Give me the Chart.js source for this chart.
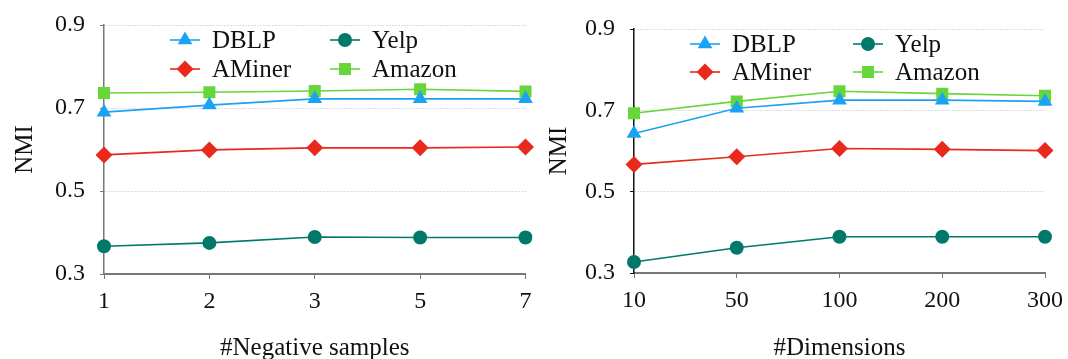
<!DOCTYPE html>
<html>
<head>
<meta charset="utf-8">
<script src="https://cdn.jsdelivr.net/npm/chart.js@4/dist/chart.umd.min.js"></script>
<style>
    body { margin: 0; background: #fff; }
    .wrap { position: absolute; top: 0; width: 534px; height: 359px; }
</style>
</head>
<body>
<div class="wrap" style="left:0"><canvas id="neg-samples"></canvas></div>
<div class="wrap" style="left:534px"><canvas id="dimensions"></canvas></div>
<script>
// data
const negLabels = ["1", "2", "3", "5", "7"];
const negDblp = [0.690, 0.707, 0.722, 0.722, 0.722];
const negAminer = [0.587, 0.599, 0.604, 0.604, 0.606];
const negYelp = [0.367, 0.375, 0.389, 0.388, 0.388];
const negAmazon = [0.736, 0.738, 0.741, 0.745, 0.740];

const dimLabels = ["10", "50", "100", "200", "300"];
const dimDblp = [0.643, 0.705, 0.725, 0.725, 0.722];
const dimAminer = [0.567, 0.586, 0.606, 0.604, 0.601];
const dimYelp = [0.327, 0.362, 0.389, 0.389, 0.389];
const dimAmazon = [0.693, 0.722, 0.747, 0.741, 0.736];

const yTicks = [0.3, 0.5, 0.7, 0.9];

const FONT = "'Liberation Serif', 'Times New Roman', serif";

const styles = {
    DBLP: { color: "#1aa3f2", point: "triangle", radius: 8.5 },
    AMiner: { color: "#e8291c", point: "rectRot", radius: 8.5 },
    Yelp: { color: "#00796b", point: "circle", radius: 7 },
    Amazon: { color: "#66d63a", point: "rect", radius: 8.5 },
};

function makeSet(name, values) {
    const s = styles[name];
    return {
        label: name,
        data: values,
        borderColor: s.color,
        backgroundColor: s.color,
        borderWidth: 1.6,
        pointStyle: s.point,
        pointRadius: s.radius,
        pointBorderWidth: 0,
        tension: 0,
    };
}

// legend drawn inside the plot, two columns
const insideLegend = {
    id: "insideLegend",
    afterDraw(chart, args, opts) {
        const ctx = chart.ctx;
        const items = [
            ["DBLP", 0, 0], ["Yelp", 1, 0],
            ["AMiner", 0, 1], ["Amazon", 1, 1],
        ];
        ctx.save();
        ctx.font = "25px " + FONT;
        ctx.textBaseline = "middle";
        items.forEach(([name, col, row]) => {
            const s = styles[name];
            const x = opts.x + col * opts.colGap;
            const y = opts.y + row * opts.rowGap;
            ctx.strokeStyle = s.color;
            ctx.lineWidth = 1.6;
            ctx.beginPath();
            ctx.moveTo(x - 15, y);
            ctx.lineTo(x + 15, y);
            ctx.stroke();
            ctx.fillStyle = s.color;
            Chart.helpers.drawPoint(ctx, { pointStyle: s.point, radius: s.radius, borderWidth: 0 }, x, y);
            ctx.fillStyle = "#111";
            ctx.fillText(name, x + 27, y + 1);
        });
        ctx.restore();
    },
};

function makeChart(id, labels, sets, xTitle, box, axisColor, legendPos) {
    return new Chart(document.getElementById(id), {
        type: "line",
        data: {
            labels: labels,
            datasets: sets,
        },
        plugins: [insideLegend],
        options: {
            responsive: true,
            maintainAspectRatio: false,
            animation: false,
            layout: {
                padding: { left: 0, right: box.right, top: box.top, bottom: 0 },
            },
            scales: {
                x: {
                    offset: false,
                    afterFit: (scale) => {
                        scale.height = box.bottom;
                        scale.paddingLeft = 0;
                        scale.paddingRight = 0;
                    },
                    border: { color: "#777", width: 2 },
                    grid: { drawOnChartArea: false, tickLength: 5, color: "#777" },
                    ticks: {
                        font: { family: FONT, size: 24 },
                        color: "#111",
                        padding: 8,
                        maxRotation: 0,
                    },
                    title: {
                        display: true,
                        text: xTitle,
                        font: { family: FONT, size: 25 },
                        color: "#111",
                        padding: { top: 20, bottom: -4 },
                    },
                },
                y: {
                    min: 0.3,
                    max: 0.9,
                    afterFit: (scale) => {
                        scale.width = box.left;
                        scale.paddingTop = 0;
                        scale.paddingBottom = 0;
                    },
                    afterBuildTicks: (scale) => {
                        scale.ticks = yTicks.map((v) => ({ value: v }));
                    },
                    border: { color: axisColor, width: 1.5, dash: [1, 2] },
                    grid: {
                        color: (c) => (c.tick && c.tick.value === 0.3 ? "rgba(0,0,0,0)" : "#bdbdbd"),
                        tickColor: axisColor,
                        tickLength: 4,
                        lineWidth: 1,
                    },
                    ticks: {
                        font: { family: FONT, size: 24 },
                        color: "#111",
                        padding: 15,
                        callback: (v) => v.toFixed(1),
                    },
                    title: {
                        display: true,
                        text: "NMI",
                        font: { family: FONT, size: 25 },
                        color: "#111",
                        padding: { top: 10, bottom: 4 },
                    },
                },
            },
            plugins: {
                legend: { display: false },
                tooltip: { enabled: false },
                insideLegend: legendPos,
            },
        },
    });
}

makeChart(
    "neg-samples",
    negLabels,
    [
        makeSet("DBLP", negDblp),
        makeSet("AMiner", negAminer),
        makeSet("Yelp", negYelp),
        makeSet("Amazon", negAmazon),
    ],
    "#Negative samples",
    { left: 104, right: 7, top: 25, bottom: 85 },
    "#777",
    { x: 185, y: 40, colGap: 160, rowGap: 29 }
);

makeChart(
    "dimensions",
    dimLabels,
    [
        makeSet("DBLP", dimDblp),
        makeSet("AMiner", dimAminer),
        makeSet("Yelp", dimYelp),
        makeSet("Amazon", dimAmazon),
    ],
    "#Dimensions",
    { left: 100, right: 23, top: 29, bottom: 86 },
    "#111",
    { x: 171, y: 44, colGap: 163, rowGap: 28 }
);
</script>
</body>
</html>
